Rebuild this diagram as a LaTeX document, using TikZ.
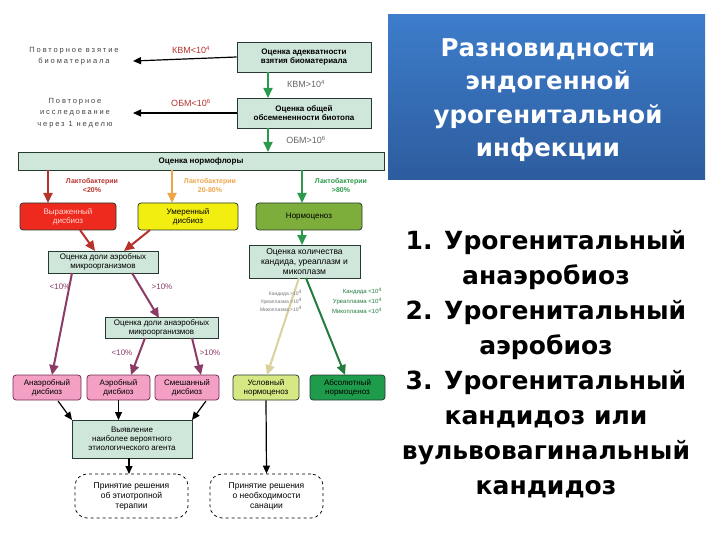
\documentclass[tikz,border=0pt]{standalone}
\usepackage{fontspec}
\setmainfont{Liberation Sans}
\newfontfamily\headfont{DejaVu Sans}
\newfontfamily\spacedfont[LetterSpace=25]{Liberation Sans}
\usetikzlibrary{arrows.meta}

\definecolor{mintfill}{HTML}{CFE6DA}
\definecolor{boxline}{HTML}{263A30}
\definecolor{redarr}{HTML}{B8322C}
\definecolor{orangearr}{HTML}{EFA448}
\definecolor{greenarr}{HTML}{2C9A4C}
\definecolor{purplearr}{HTML}{8C3A66}
\definecolor{redbox}{HTML}{EE2A1E}
\definecolor{yellowbox}{HTML}{F2EE10}
\definecolor{olivebox}{HTML}{7DAE3C}
\definecolor{pinkbox}{HTML}{F3A0C4}
\definecolor{limebox}{HTML}{D6E884}
\definecolor{deepgreen}{HTML}{1E9C4C}
\definecolor{tanline}{HTML}{D9D29C}
\definecolor{titletop}{HTML}{3D7DCB}
\definecolor{titlebot}{HTML}{2D5C9E}

\tikzset{every picture/.style={line width=0.75pt}}
\tikzset{
  mint/.style={draw=boxline, fill=mintfill, align=center, inner sep=1pt, font=\fontsize{8}{9}\selectfont},
  dysbox/.style={draw=boxline, rounded corners=3pt, align=center, inner sep=1pt, font=\fontsize{8}{9}\selectfont},
  decision/.style={draw, dashed, rounded corners=12pt, align=center, minimum width=113pt, minimum height=44pt, font=\fontsize{8.5}{10}\selectfont},
  fat/.style={line width=2pt, -{Triangle[width=9pt,length=10pt]}},
  thin/.style={line width=1.2pt, -{Triangle[width=7pt,length=8pt]}},
  lbl/.style={font=\fontsize{8}{9}\selectfont, inner sep=0pt},
  tiny/.style={font=\fontsize{5}{8}\selectfont, inner sep=0pt, align=right}
}

\begin{document}
\begin{tikzpicture}[x=1pt,y=1pt,yscale=-1]
	\useasboundingbox (0,0) rectangle (720,540);

	%Shape: title panel
	\shade [top color=titletop, bottom color=titlebot] (388,15) rectangle (705,180);
	\node [white, align=center, font=\headfont\bfseries\fontsize{24.5}{33.5}\selectfont] (title) at (548,100) {Разновидности\\эндогенной\\урогенитальной\\инфекции};

	% Text Node
	\node [align=center, font=\headfont\bfseries\fontsize{25}{35}\selectfont] (kinds) at (546,364) {1. Урогенитальный\\анаэробиоз\\2. Урогенитальный\\аэробиоз\\3. Урогенитальный\\кандидоз или\\вульвовагинальный\\кандидоз};

	%Shape: first checks
	\node [mint, font=\bfseries\fontsize{8}{9.5}\selectfont, minimum width=134pt, minimum height=30pt] (adeq) at (304,57) {Оценка адекватности\\взятия биоматериала};
	\node [mint, font=\bfseries\fontsize{8}{9.5}\selectfont, minimum width=134pt, minimum height=30pt] (seed) at (304,113) {Оценка общей\\обсемененности биотопа};
	\node [mint, font=\bfseries\fontsize{8}{9}\selectfont, minimum width=366pt, minimum height=18pt] (norm) at (201,161) {Оценка нормофлоры};

	% Text Node
	\node [align=center, text=black!75, inner sep=0pt, font=\spacedfont\fontsize{7.5}{11}\selectfont] (resample) at (74,56) {Повторное взятие\\биоматериала};
	\node [align=center, text=black!75, inner sep=0pt, font=\spacedfont\fontsize{7.5}{11.5}\selectfont] (retest) at (75,113) {Повторное\\исследование\\через 1 неделю};

	%Straight Lines
	\draw [thin] (adeq.west) -- (133,61) coordinate (back1);
	\draw [thin] (seed.west |- 0,113) -- (133,113) coordinate (back2);
	\node [lbl, text=redarr, font=\fontsize{9}{10}\selectfont] (kvmlow) at (191,50) {КВМ<10\textsuperscript{4}};
	\node [lbl, text=redarr, font=\fontsize{9}{10}\selectfont] (obmlow) at (191,103) {ОБМ<10\textsuperscript{6}};
	\draw [fat, draw=greenarr, fill=greenarr] (adeq.south -| 268,0) -- (268,98);
	\draw [fat, draw=greenarr, fill=greenarr] (seed.south -| 268,0) -- (268,152);
	\node [lbl, text=black!60, font=\fontsize{9}{10}\selectfont] (kvmhigh) at (306,84) {КВМ>10\textsuperscript{4}};
	\node [lbl, text=black!60, font=\fontsize{9}{10}\selectfont] (obmhigh) at (306,140) {ОБМ>10\textsuperscript{6}};

	%Shape: flora groups
	\node [dysbox, fill=redbox, text=red!15, minimum width=96pt, minimum height=27pt] (severe) at (68,216.5) {Выраженный\\дисбиоз};
	\node [dysbox, fill=yellowbox, minimum width=100pt, minimum height=27pt] (moderate) at (188,216.5) {Умеренный\\дисбиоз};
	\node [dysbox, fill=olivebox, minimum width=106pt, minimum height=27pt] (normo) at (309,216.5) {Нормоценоз};
	\draw [fat, draw=redarr, fill=redarr] (norm.south -| 48,0) -- (48,203);
	\draw [fat, draw=orangearr, fill=orangearr] (norm.south -| 172,0) -- (172,203);
	\draw [fat, draw=greenarr, fill=greenarr] (norm.south -| 302,0) -- (302,203);
	\node [lbl, text=redarr, align=center, font=\bfseries\fontsize{7}{9}\selectfont] (lacto1) at (92,185) {Лактобактерии\\<20\%};
	\node [lbl, text=orangearr, align=center, font=\bfseries\fontsize{7}{9}\selectfont] (lacto2) at (210,185) {Лактобактерии\\20-80\%};
	\node [lbl, text=greenarr, align=center, font=\bfseries\fontsize{7}{9}\selectfont] (lacto3) at (341,185) {Лактобактерии\\>80\%};

	%Shape: second checks
	\node [mint, minimum width=110pt, minimum height=22pt] (aerob) at (103,262) {Оценка доли аэробных\\микроорганизмов};
	\node [mint, minimum width=113pt, minimum height=21pt] (anaerob) at (161.5,328) {Оценка доли анаэробных\\микроорганизмов};
	\node [mint, font=\fontsize{8.5}{10}\selectfont, minimum width=111pt, minimum height=33pt] (cand) at (304.5,261.5) {Оценка количества\\кандида, уреаплазм и\\микоплазм};
	\draw [fat, draw=redarr, fill=redarr] (80,230) -- (95,251);
	\draw [fat, draw=redarr, fill=redarr] (150,230) -- (124,251);
	\draw [fat, draw=greenarr, fill=greenarr] (normo.south -| 302,0) -- (302,245);

	%Shape: outcomes
	\node [dysbox, draw=purplearr!80!black, fill=pinkbox, minimum width=68pt, minimum height=25pt] (anaerdys) at (47,387.5) {Анаэробный\\дисбиоз};
	\node [dysbox, draw=purplearr!80!black, fill=pinkbox, minimum width=63pt, minimum height=25pt] (aerdys) at (118.5,387.5) {Аэробный\\дисбиоз};
	\node [dysbox, draw=purplearr!80!black, fill=pinkbox, minimum width=64pt, minimum height=25pt] (mixdys) at (187,387.5) {Смешанный\\дисбиоз};
	\node [dysbox, fill=limebox, minimum width=66pt, minimum height=25pt] (condnorm) at (266,387.5) {Условный\\нормоценоз};
	\node [dysbox, fill=deepgreen, minimum width=75pt, minimum height=25pt] (absnorm) at (347.5,387.5) {Абсолютный\\нормоценоз};

	%Straight Lines
	\draw [fat, draw=purplearr, fill=purplearr] (72,273) -- (52,375);
	\draw [fat, draw=purplearr, fill=purplearr] (132,273) -- (159,318);
	\draw [fat, draw=purplearr, fill=purplearr] (145,338) -- (131,375);
	\draw [fat, draw=purplearr, fill=purplearr] (192,338) -- (201,375);
	\node [lbl, text=purplearr] (lt1) at (60,287) {<10\%};
	\node [lbl, text=purplearr] (gt1) at (162,287) {>10\%};
	\node [lbl, text=purplearr] (lt2) at (122,353) {<10\%};
	\node [lbl, text=purplearr] (gt2) at (210,353) {>10\%};
	\draw [line width=2pt, draw=tanline, -{Triangle[width=9pt,length=10pt]}, fill=limebox!80!green] (299,278) -- (267,375);
	\draw [fat, draw=greenarr!80!black, fill=greenarr] (306,278) -- (345,375);
	\node [tiny, text=black!55] (posleft) at (281,301) {Кандида >10\textsuperscript{4}\\Уреаплазма >10\textsuperscript{4}\\Микоплазма >10\textsuperscript{4}};
	\node [tiny, text=greenarr!80!black, font=\fontsize{6}{10}\selectfont] (negright) at (357,301) {Кандида <10\textsuperscript{4}\\Уреаплазма <10\textsuperscript{4}\\Микоплазма <10\textsuperscript{4}};

	%Shape: final steps
	\node [mint, minimum width=120pt, minimum height=38pt] (agent) at (132,439) {Выявление\\наиболее вероятного\\этиологического агента};
	\node [decision] (therapy) at (131.5,496) {Принятие решения\\об этиотропной\\терапии};
	\node [decision] (sanation) at (266.5,496) {Принятие решения\\о необходимости\\санации};
	\draw [thin] (58,401) -- (72,420);
	\draw [thin] (aerdys.south) -- (118.5,420);
	\draw [thin] (206,401) -- (192,420);
	\draw [thin] (agent.south -| 129,0) -- (129,474);
	\draw [thin] (condnorm.south) -- (sanation.north);
\end{tikzpicture}
\end{document}
